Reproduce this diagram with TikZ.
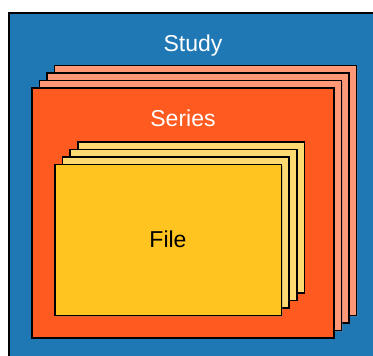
\documentclass[tikz,border=0pt]{standalone}
\usepackage{fontspec}
\setmainfont{Liberation Sans}
\usetikzlibrary{shadows}
\definecolor{studyblue}{HTML}{1F77B4}
\definecolor{seriesfront}{HTML}{FF5A1F}
\definecolor{seriesback}{HTML}{FF9877}
\definecolor{filefront}{HTML}{FFC41F}
\definecolor{fileback}{HTML}{FFDA70}
\tikzset{
  card/.style={draw=black, line width=1.6pt,
    drop shadow={shadow xshift=1pt, shadow yshift=-1pt, opacity=0.35}},
  label/.style={anchor=base, font=\fontsize{23}{27}\selectfont, inner sep=0pt}
}
\begin{document}
\begin{tikzpicture}[x=1pt, y=-1pt]
  \useasboundingbox (0,0) rectangle (373,356);
  \clip (0,0) rectangle (373,356);
  \fill[white] (0,0) rectangle (373,356);
  % study level
  \draw[fill=studyblue, draw=black, line width=1.6pt] (9,13) rectangle (390,370);
  \node[label, text=white] (study) at (193,51) {Study};
  % stacked series cards
  \foreach \k in {3,2,1} {
    \path[card, fill=seriesback] (32+7.5*\k, 88-7.5*\k) rectangle (334+7.5*\k, 338-7.5*\k);
  }
  \path[card, fill=seriesfront] (32,88) rectangle (334,338);
  \node[label, text=white] (series) at (183,126) {Series};
  % stacked file cards
  \foreach \k in {3,2,1} {
    \path[card, fill=fileback] (55+7.6*\k, 164.5-7.6*\k) rectangle (281.5+7.6*\k, 315.5-7.6*\k);
  }
  \path[card, fill=filefront] (55,164.5) rectangle (281.5,315.5);
  \node[label, text=black] (file) at (168,247.7) {File};
\end{tikzpicture}
\end{document}
